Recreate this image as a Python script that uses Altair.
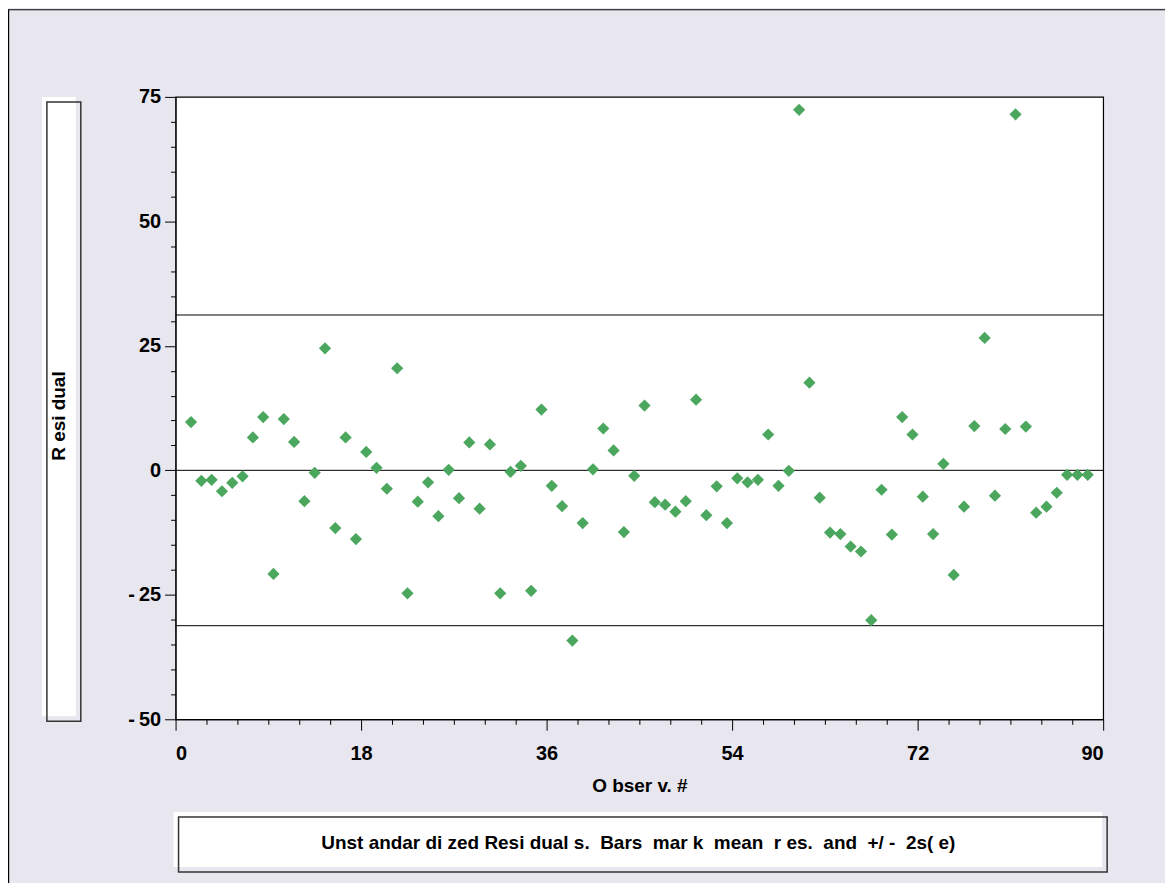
import altair as alt
import pandas as pd

# ---- data ----
obs = list(range(1, 89))
residuals = [9.7, -2.1, -1.9, -4.2, -2.5, -1.2, 6.6, 10.7, -20.8, 10.3,
             5.7, -6.2, -0.5, 24.5, -11.6, 6.6, -13.8, 3.7, 0.5, -3.7,
             20.5, -24.7, -6.3, -2.4, -9.2, 0.1, -5.6, 5.6, -7.7, 5.2,
             -24.7, -0.3, 0.9, -24.2, 12.2, -3.1, -7.2, -34.2, -10.6, 0.2,
             8.4, 4.0, -12.4, -1.1, 13.0, -6.4, -6.9, -8.3, -6.2, 14.2,
             -9.0, -3.2, -10.6, -1.6, -2.4, -1.9, 7.2, -3.1, -0.1, 72.4,
             17.6, -5.5, -12.5, -12.8, -15.3, -16.3, -30.1, -3.9, -12.9, 10.7,
             7.2, -5.3, -12.8, 1.3, -21.0, -7.3, 8.9, 26.6, -5.1, 8.3,
             71.5, 8.8, -8.5, -7.3, -4.5, -0.9, -0.9, -0.9]
bar_levels = [31.2, 0.0, -31.2]          # mean residual and +/- 2s(e)
x_tick_values = list(range(0, 91, 3))    # minor every 3, labelled every 18
y_tick_values = list(range(-50, 76, 5))  # minor every 5, labelled every 25

y_title = "R esi dual"
x_title = "O bser v. #"
caption = "Unst andar di zed Resi dual s.\u00a0 Bars\u00a0 mar k\u00a0 mean\u00a0 r es.\u00a0 and\u00a0 +/ -\u00a0 2s( e)"

W, H = 930, 624
BG = "#E8E6EE"
FONT = "Liberation Sans"

df = pd.DataFrame({"obs": obs, "res": residuals})
bars = pd.DataFrame({"level": bar_levels})

xscale = alt.Scale(domain=[0, 90], nice=False, zero=False)
yscale = alt.Scale(domain=[-50, 75], nice=False, zero=False)

xaxis = alt.Axis(
    values=x_tick_values,
    labelExpr="datum.value % 18 === 0 ? datum.label : ''",
    tickSize={"condition": {"test": "datum.value % 18 === 0", "value": 11}, "value": 5},
    tickColor="black", domainColor="black", labelColor="black",
    labelFont=FONT, labelFontSize=20, labelFontWeight="bold", labelPadding=13,
    grid=False, title=x_title, titleFont=FONT, titleFontSize=19,
    titleFontWeight="bold", titleColor="black", titlePadding=13,
)
yaxis = alt.Axis(
    values=y_tick_values,
    labelExpr="datum.value % 25 === 0 ? (datum.value < 0 ? '-\u2009' + abs(datum.value) : datum.label) : ''",
    tickSize={"condition": {"test": "datum.value % 25 === 0", "value": 11}, "value": 5},
    tickColor="black", domainColor="black", labelColor="black",
    labelFont=FONT, labelFontSize=20, labelFontWeight="bold", labelPadding=4,
    grid=False, title=None,
)

def box(x1, x2, y1, y2, fill=None, stroke=None, sw=1.0):
    kw = dict(fill=fill if fill is not None else "transparent")
    if stroke is not None:
        kw.update(stroke=stroke, strokeWidth=sw)
    return alt.Chart(pd.DataFrame({"k": [0]})).mark_rect(**kw).encode(
        x=alt.value(x1), x2=alt.value(x2), y=alt.value(y1), y2=alt.value(y2)
    )

outer = box(-167.4, 1200, -87.4, 900, None, "black", 1.2)

ybox_halo = box(-134, -100, 0, 621, "white")
ybox = box(-129, -95, 5, 626, None, "#333333", 1.5)
cap_halo = box(-2, 929, 717, 772, "white")
cap_box = box(3, 934, 722, 777, None, "#333333", 1.5)

rules = alt.Chart(bars).mark_rule(color="black", strokeWidth=1).encode(
    y=alt.Y("level:Q", scale=yscale, axis=yaxis)
)

points = alt.Chart(df).transform_calculate(xpos="datum.obs + 0.5").mark_point(
    shape="diamond", filled=True, color="#4BA75E", size=150, opacity=1
).encode(
    x=alt.X("xpos:Q", scale=xscale, axis=xaxis),
    y=alt.Y("res:Q", scale=yscale, axis=yaxis),
)

ytitle = alt.Chart(pd.DataFrame({"t": [y_title]})).mark_text(
    angle=270, font=FONT, fontSize=19, fontWeight="bold", color="black",
    align="center", baseline="middle"
).encode(x=alt.value(-117), y=alt.value(320), text="t:N")

cap_text = alt.Chart(pd.DataFrame({"t": [caption]})).mark_text(
    font=FONT, fontSize=19, fontWeight="bold", color="black",
    align="center", baseline="middle"
).encode(x=alt.value(464), y=alt.value(748), text="t:N")

chart = alt.layer(
    outer, ybox_halo, ybox, cap_halo, cap_box, rules, points, ytitle, cap_text
).properties(
    width=W, height=H,
    background=BG,
    padding={"left": 168, "top": 88, "right": 62, "bottom": 163},
    autosize=alt.AutoSizeParams(type="none"),
).configure_view(
    stroke="black", strokeWidth=1.2, fill="white"
)

chart.save("out.html", embed_options={"renderer": "svg", "actions": False})
